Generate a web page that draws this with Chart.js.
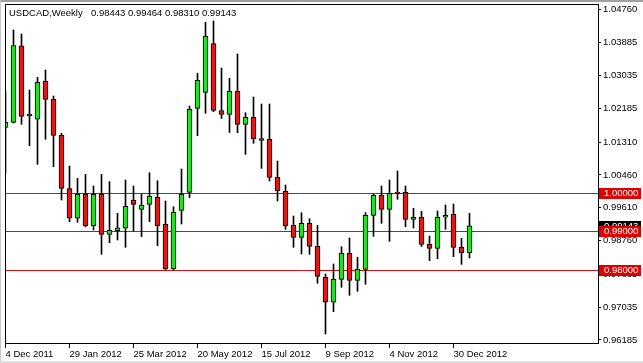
<!DOCTYPE html>
<html>
<head>
<meta charset="utf-8">
<title>USDCAD Weekly</title>
<script src="https://cdn.jsdelivr.net/npm/chart.js@4/dist/chart.umd.min.js"></script>
<style>
  html, body { margin: 0; padding: 0; background: #fff; }
  #wrap { width: 643px; height: 363px; }
</style>
</head>
<body>
<div id="wrap"><canvas id="chart" width="643" height="363"></canvas></div>
<script>
const symbol = 'USDCAD,Weekly';

// one bar per week
const weeks = [
  '4 Dec 2011', '11 Dec 2011', '18 Dec 2011', '25 Dec 2011',
  '1 Jan 2012', '8 Jan 2012', '15 Jan 2012', '22 Jan 2012', '29 Jan 2012',
  '5 Feb 2012', '12 Feb 2012', '19 Feb 2012', '26 Feb 2012',
  '4 Mar 2012', '11 Mar 2012', '18 Mar 2012', '25 Mar 2012',
  '1 Apr 2012', '8 Apr 2012', '15 Apr 2012', '22 Apr 2012', '29 Apr 2012',
  '6 May 2012', '13 May 2012', '20 May 2012', '27 May 2012',
  '3 Jun 2012', '10 Jun 2012', '17 Jun 2012', '24 Jun 2012',
  '1 Jul 2012', '8 Jul 2012', '15 Jul 2012', '22 Jul 2012', '29 Jul 2012',
  '5 Aug 2012', '12 Aug 2012', '19 Aug 2012', '26 Aug 2012',
  '2 Sep 2012', '9 Sep 2012', '16 Sep 2012', '23 Sep 2012', '30 Sep 2012',
  '7 Oct 2012', '14 Oct 2012', '21 Oct 2012', '28 Oct 2012',
  '4 Nov 2012', '11 Nov 2012', '18 Nov 2012', '25 Nov 2012',
  '2 Dec 2012', '9 Dec 2012', '16 Dec 2012', '23 Dec 2012', '30 Dec 2012',
  '6 Jan 2013', '13 Jan 2013',
];

const opens = [
  1.01690, 1.01825, 1.03809, 1.01990, 1.01903, 1.02887, 1.02421, 1.01488, 1.00105, 0.99338,
  0.99967, 0.99146, 0.99967, 0.98923, 0.99016, 0.99079, 0.99812, 0.99571, 0.99700, 0.99882,
  0.99190, 0.98024, 0.99545, 1.00011, 1.02187, 1.02602, 1.03866, 1.02130, 1.02032, 1.02636,
  1.01773, 1.01954, 1.01400, 1.01384, 1.00400, 1.00037, 0.99156, 0.98845, 0.99208, 0.98612,
  0.97817, 0.97162, 0.97757, 0.98431, 0.97731, 0.98016, 0.99415, 0.99934, 0.99571, 1.00020,
  1.00011, 0.99312, 0.99364, 0.98672, 0.98555, 0.99364, 0.99441, 0.98594, 0.98443,
];
const highs = [
  1.02618, 1.04216, 1.04112, 1.02662, 1.02991, 1.03180, 1.02506, 1.01540, 1.00693, 1.00374,
  1.00478, 1.00175, 1.00478, 1.00286, 0.99467, 1.00330, 1.00175, 0.99967, 1.00519, 1.00312,
  0.99786, 0.99638, 1.00615, 1.02247, 1.03094, 1.04415, 1.04449, 1.03232, 1.02965, 1.03594,
  1.02073, 1.02480, 1.02299, 1.02299, 1.00822, 1.00200, 0.99397, 0.99483, 0.99327, 0.99156,
  0.97895, 0.98154, 0.98602, 0.98827, 0.98327, 0.99483, 0.99959, 1.00175, 1.00330, 1.00563,
  1.00175, 0.99597, 0.99519, 0.98879, 0.99527, 0.99682, 0.99708, 0.98820, 0.99464,
];
const lows = [
  1.00511, 1.01807, 1.01773, 1.01219, 1.00737, 1.01384, 1.00674, 0.99812, 0.99250, 0.99234,
  0.99112, 0.99035, 0.98405, 0.98705, 0.98776, 0.98586, 0.99009, 0.98861, 0.99250, 0.98628,
  0.97998, 0.97998, 0.99190, 0.99871, 1.01478, 1.02058, 1.02099, 1.01923, 1.01561, 1.01555,
  1.00996, 1.01281, 1.00633, 1.00304, 0.99786, 0.99053, 0.98586, 0.98413, 0.98405, 0.97654,
  0.96340, 0.96918, 0.97550, 0.97343, 0.97446, 0.97628, 0.98871, 0.99208, 0.98742, 0.99830,
  0.99120, 0.99086, 0.98607, 0.98239, 0.98291, 0.99053, 0.98343, 0.98146, 0.98310,
];
const closes = [
  1.01833, 1.03814, 1.01980, 1.02040, 1.02861, 1.02421, 1.01488, 1.00115, 0.99338, 0.99967,
  0.99146, 0.99959, 0.98923, 0.99027, 0.99094, 0.99649, 0.99700, 0.99682, 0.99915, 0.99146,
  0.98024, 0.99501, 0.99967, 1.02162, 1.02913, 1.04053, 1.02130, 1.02027, 1.02636, 1.01773,
  1.01954, 1.01392, 1.01355, 1.00400, 1.00045, 0.99143, 0.98845, 0.99208, 0.98612, 0.97835,
  0.97162, 0.97765, 0.98431, 0.97731, 0.98024, 0.99415, 0.99934, 0.99571, 0.99985, 0.99975,
  0.99312, 0.99364, 0.98659, 0.98555, 0.99364, 0.99415, 0.98586, 0.98440, 0.99143,
];

// price axis labels as printed on the right
const priceTicks = [1.04760, 1.03885, 1.03035, 1.02185, 1.01310, 1.00460, 0.99610, 0.98760, 0.97885, 0.97035, 0.96185];
// a date label every 8 weeks
const dateTicks = [0, 8, 16, 24, 32, 40, 48, 56];
// horizontal levels drawn on the chart
const levels = [1.00000, 0.99000, 0.98000];

const FONT = { family: '"Liberation Sans", Arial, sans-serif', size: 9.5 };
const BULL = '#22e022';
const BEAR = '#e01818';
const LEVEL = '#d41010';

const last = closes.length - 1;
const bodies = opens.map((o, i) => ({ x: i, y: [o, closes[i]] }));
const wicks = lows.map((l, i) => ({ x: i, y: [l, highs[i]] }));
const bodyColors = opens.map((o, i) => (closes[i] >= o ? BULL : BEAR));

function noPadding(s) {
  s.paddingTop = 0;
  s.paddingBottom = 0;
  s.paddingLeft = 0;
  s.paddingRight = 0;
}

function priceBox(ctx, scale, value, fill) {
  const y = Math.round(scale.getPixelForValue(value));
  ctx.fillStyle = fill;
  ctx.fillRect(599, y - 5, 42, 11);
  ctx.fillStyle = '#fff';
  ctx.font = `${FONT.size}px ${FONT.family}`;
  ctx.textBaseline = 'middle';
  ctx.textAlign = 'left';
  ctx.fillText(value.toFixed(5), 604, y + 0.5);
}

const terminal = {
  id: 'terminal',
  beforeDraw(chart) {
    const ctx = chart.ctx;
    ctx.save();
    ctx.fillStyle = '#fff';
    ctx.fillRect(0, 0, chart.width, chart.height);
    ctx.restore();
  },
  beforeDatasetsDraw(chart) {
    // level lines sit under the candles
    const { ctx, chartArea, scales } = chart;
    ctx.save();
    ctx.strokeStyle = LEVEL;
    ctx.lineWidth = 1;
    for (const lv of levels) {
      const y = Math.round(scales.y.getPixelForValue(lv)) + 0.5;
      ctx.beginPath();
      ctx.moveTo(chartArea.left, y);
      ctx.lineTo(chartArea.right, y);
      ctx.stroke();
    }
    ctx.restore();
  },
  afterDraw(chart) {
    const { ctx, chartArea, scales } = chart;
    ctx.save();
    // left and top edges of the plot
    ctx.strokeStyle = '#000';
    ctx.lineWidth = 1;
    ctx.beginPath();
    ctx.moveTo(Math.round(chartArea.left) + 0.5, Math.round(chartArea.bottom));
    ctx.lineTo(Math.round(chartArea.left) + 0.5, Math.round(chartArea.top) + 0.5);
    ctx.lineTo(Math.round(chartArea.right), Math.round(chartArea.top) + 0.5);
    ctx.stroke();

    // header
    ctx.fillStyle = '#000';
    ctx.font = `${FONT.size}px ${FONT.family}`;
    ctx.textBaseline = 'alphabetic';
    ctx.textAlign = 'left';
    ctx.fillText(symbol, 9, 16);
    const ohlc = [opens[last], highs[last], lows[last], closes[last]].map(v => v.toFixed(5)).join(' ');
    ctx.fillText(ohlc, 91, 16);

    // price markers on the axis
    priceBox(ctx, scales.y, closes[last], '#000');
    for (const lv of levels) priceBox(ctx, scales.y, lv, '#e00000');

    // window frame
    ctx.fillStyle = '#a0a0a0';
    ctx.fillRect(0, 0, chart.width, 2);
    ctx.fillStyle = '#c8c8c8';
    ctx.fillRect(0, 0, 1, chart.height);
    ctx.fillStyle = '#e0e0e0';
    ctx.fillRect(0, chart.height - 2, chart.width, 2);
    ctx.restore();
  },
};

new Chart(document.getElementById('chart'), {
  type: 'bar',
  data: {
    datasets: [
      {
        label: 'body',
        data: bodies,
        backgroundColor: bodyColors,
        borderColor: '#000',
        borderWidth: 1,
        borderSkipped: false,
        barThickness: 5,
        grouped: false,
        order: 0,
      },
      {
        label: 'wick',
        data: wicks,
        backgroundColor: '#000',
        borderWidth: 0,
        barThickness: 1,
        grouped: false,
        order: 1,
      },
    ],
  },
  options: {
    responsive: false,
    animation: false,
    devicePixelRatio: 1,
    layout: { padding: { left: 5, top: 4, right: 0, bottom: 0 } },
    plugins: {
      legend: { display: false },
      tooltip: { enabled: false },
      title: { display: false },
    },
    scales: {
      x: {
        type: 'linear',
        offset: false,
        min: -0.0625,
        max: 74.0625,
        bounds: 'data',
        afterBuildTicks: s => { s.ticks = dateTicks.map(v => ({ value: v })); },
        afterFit: s => { s.height = 20; noPadding(s); },
        ticks: {
          align: 'start',
          padding: 1,
          color: '#000',
          font: FONT,
          maxRotation: 0,
          autoSkip: false,
          callback: v => weeks[v] ?? '',
        },
        grid: { drawOnChartArea: false, drawTicks: true, tickLength: 5, color: '#000', offset: false },
        border: { display: true, color: '#000', width: 1 },
      },
      y: {
        position: 'right',
        min: 0.96107,
        max: 1.04890,
        bounds: 'data',
        afterBuildTicks: s => { s.ticks = priceTicks.map(v => ({ value: v })); },
        afterFit: s => { s.width = 45; noPadding(s); },
        ticks: {
          padding: 2,
          color: '#000',
          font: FONT,
          callback: v => Number(v).toFixed(5),
        },
        grid: { drawOnChartArea: false, drawTicks: true, tickLength: 3, color: '#000' },
        border: { display: true, color: '#000', width: 1 },
      },
    },
  },
  plugins: [terminal],
});
</script>
</body>
</html>
